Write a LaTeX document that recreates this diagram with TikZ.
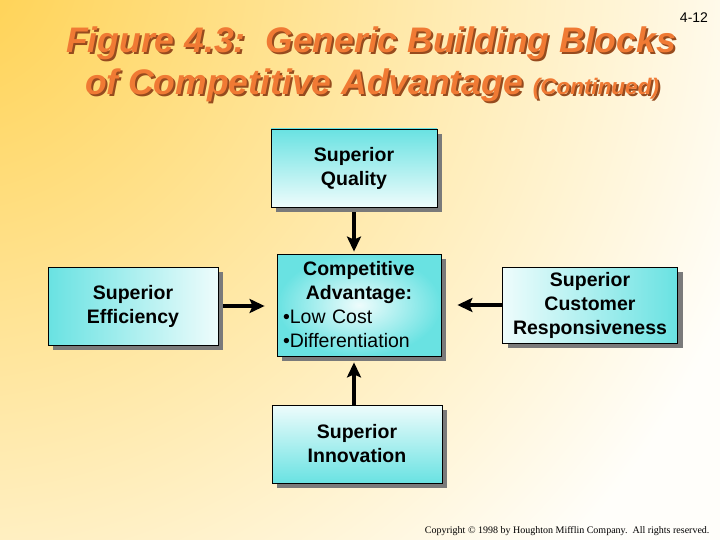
\documentclass[tikz,border=0pt]{standalone}
\usepackage{fontspec}
\setmainfont{Liberation Sans}
\newfontfamily\copyfont{Liberation Serif}
\usetikzlibrary{arrows.meta,positioning,calc,shadows}

\definecolor{titleorange}{RGB}{240,122,52}
\definecolor{titleshade}{RGB}{150,75,30}
\definecolor{boxcyan}{RGB}{105,226,226}
\definecolor{boxpale}{RGB}{238,252,252}
\definecolor{bgyellow}{RGB}{255,208,75}
\definecolor{bgcream}{RGB}{255,254,250}

\newcommand{\shadowed}[1]{\makebox[0pt][l]{\raisebox{-2pt}{\hspace{2pt}\textcolor{titleshade}{#1}}}#1}

\tikzset{
  block/.style={draw=black, line width=0.8pt, align=center,
    minimum width=166, minimum height=78,
    font=\fontsize{19.5}{24}\selectfont\bfseries,
    drop shadow={shadow xshift=5pt, shadow yshift=-5pt, fill=black!52, opacity=1}},
  link/.style={line width=4pt, -{Stealth[length=15pt,width=14pt,inset=3pt]}},
  titletext/.style={font=\fontsize{35.5}{40}\bfseries\itshape, text=titleorange},
}

\begin{document}
\begin{tikzpicture}[x=1pt,y=-1pt]
\useasboundingbox (0,0) rectangle (720,540);
\begin{scope}
\clip (0,0) rectangle (720,540);
\fill[bgcream] (0,0) rectangle (720,540);
\shade[inner color=bgyellow, outer color=bgcream] (-60,-40) circle (860);
\end{scope}

% title
\node[titletext] (ttl1) at (371,44) {\shadowed{Figure 4.3:\ \ Generic Building Blocks}};
\node[titletext] (ttl2) at (372,86) {\shadowed{of Competitive Advantage {\fontsize{22.5}{24}\selectfont (Continued)}}};
\node[font=\fontsize{14}{16}\selectfont] (pgno) at (694,18) {4-12};

% blocks
\node[block, top color=boxcyan, bottom color=boxpale] (qual) at (354,168) {Superior\\Quality};
\node[block, left color=boxcyan, right color=boxpale, minimum width=170] (eff) at (133,306) {Superior\\Efficiency};
\node[block, inner color=boxpale, outer color=boxcyan, minimum width=164, minimum height=102, text width=152, align=left] (comp) at (359,305)
  {\centering Competitive\\Advantage:\par\raggedright\mdseries\textbullet Low Cost\\\textbullet Differentiation};
\node[block, left color=boxpale, right color=boxcyan, minimum width=175, minimum height=76] (resp) at (590,305) {Superior\\Customer\\Responsiveness};
\node[block, top color=boxpale, bottom color=boxcyan, minimum width=170] (innov) at (357,444) {Superior\\Innovation};

% arrows
\draw[link, shorten <=5pt, shorten >=2pt] (qual.south) -- (qual.south |- comp.north);
\draw[link, shorten <=5pt, shorten >=12pt] (eff.east) -- (eff.east -| comp.west);
\draw[link, shorten >=16pt] (resp.west) -- (resp.west -| comp.east);
\draw[link, shorten >=6pt] (innov.north -| qual.south) -- (qual.south |- comp.south);

\node[anchor=east, font=\copyfont\fontsize{10}{12}\selectfont] (copy) at (713,531)
  {Copyright \textcopyright{} 1998 by Houghton Mifflin Company.\ \ All rights reserved.};
\end{tikzpicture}
\end{document}
